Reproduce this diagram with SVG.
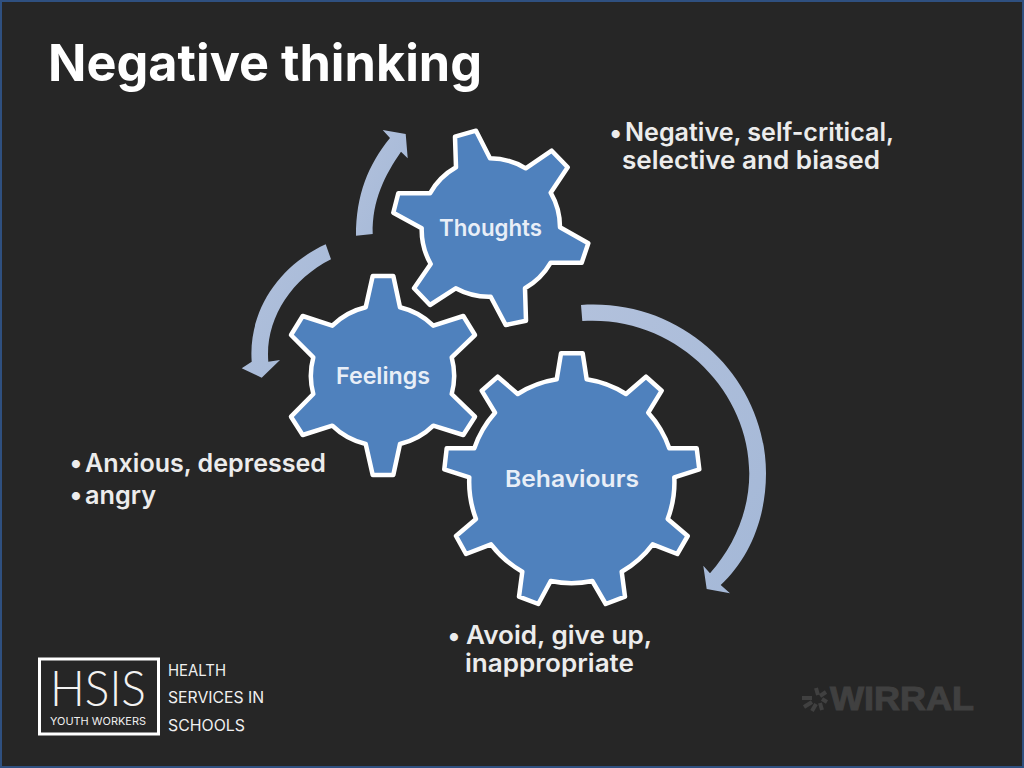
<svg xmlns="http://www.w3.org/2000/svg" width="1024" height="768" viewBox="0 0 1024 768">
<defs>
<linearGradient id="arrowFill" x1="0" y1="0" x2="1" y2="1"><stop offset="0" stop-color="#b2c1dc"/><stop offset="1" stop-color="#a4b8d7"/></linearGradient>
</defs>
<style>
text{font-family:"Inter","Liberation Sans",sans-serif;font-variant-ligatures:none}
.gear{fill:#4f81bd;stroke:#fff;stroke-width:4.5;stroke-linejoin:round}
.arrow{fill:url(#arrowFill)}
.gl{font-weight:600;fill:#e8eef7;font-size:23px}
.body{font-weight:600;fill:#ececec;font-size:25px}
.bullet{font-weight:800;fill:#ececec;font-size:26px;text-anchor:middle}
.logo{fill:#f0f0f0;font-size:15.500px}
</style>
<rect width="1024" height="768" fill="#262626"/>
<rect x="1" y="1" width="1022" height="766" fill="none" stroke="#2f5080" stroke-width="2"/>
<text x="48" y="81" font-weight="700" font-size="51" fill="#fff" textLength="434" lengthAdjust="spacingAndGlyphs">Negative thinking</text>
<g id="connectors">
<path class="arrow" d="M356 235.700C356 195 368 165 390 138L382.700 130L405.700 134L407.700 158.300L401 151.700C385 175 372 200 372.700 234Z"/>
<path class="arrow" d="M325.700 244.300C280 265 248 310 251.700 361.700L241.700 368.300L261.700 377.700L280 360L268.300 361.700C265 320 290 280 331 259.300Z"/>
<path class="arrow" d="M581 305C685 298 766 380 766 473.300C766 520 748 560 720.700 585L730 593.300L706.700 589L703.300 565.700L710 573.300C735 545 749.300 510 749.300 473.300C749.300 390 675 315 582.300 321Z"/>
</g>
<g id="thoughts">
<path class="gear" d="M455 136.700L476 130.700L490 158.300A69 69 0 0 1 525.700 168.300L551.700 150.700L567.700 167.300L550.700 192.700A69 69 0 0 1 560 227.300L588.300 243.300L581.700 262.700L550.700 262.700A69 69 0 0 1 525 288.300L526 320.700L505.700 325L490.700 296.700A69 69 0 0 1 455.700 288.300L430 305L414 288.300L430.700 264A69 69 0 0 1 421.700 228.300L393.300 212.700L398.300 193.300L430 193.300A69 69 0 0 1 456 167.300Z"/>
<text class="gl" x="439" y="235.500" textLength="103" lengthAdjust="spacingAndGlyphs">Thoughts</text>
</g>
<g id="feelings">
<path class="gear" d="M372.700 276L393.300 276L400 307.300A70.500 70.500 0 0 1 433.300 325.700L463.300 316L475 335L451.700 357.300A70.500 70.500 0 0 1 451.700 394L475 416.700L463.300 435L433.300 425.700A70.500 70.500 0 0 1 400 444L393.300 475L372.700 475L365.700 444A70.500 70.500 0 0 1 332.300 425.700L302.700 435L291 416.700L313.300 394A70.500 70.500 0 0 1 313.300 357.300L291 335L302.700 316L332.300 325.700A70.500 70.500 0 0 1 365.700 307.300Z"/>
<text class="gl" x="336" y="383.500" textLength="94" lengthAdjust="spacingAndGlyphs">Feelings</text>
</g>
<g id="behaviours">
<path class="gear" d="M561 353.300L582.700 353.300L586.700 379.300A103 103 0 0 1 626 394L646 376.700L661.700 390.700L648.300 412.700A103 103 0 0 1 669.300 448.300L696.700 448.300L699.300 469.300L674.300 477.300A103 103 0 0 1 667.700 519L687.700 536L677.300 554L652.700 544.300A103 103 0 0 1 621.700 571.700L625 596.700L605.700 604L592.300 581A103 103 0 0 1 550.700 581L538.300 604L519 596.700L522.300 571.700A103 103 0 0 1 491 544.300L466 554L456 536L476 519A103 103 0 0 1 469.300 477.300L444.300 469.300L446.700 448.300L474.300 448.300A103 103 0 0 1 495 412.700L481.700 390.700L497.700 376.700L517.700 394A103 103 0 0 1 556.700 379.300Z"/>
<text class="gl" x="505" y="486.500" textLength="134" lengthAdjust="spacingAndGlyphs">Behaviours</text>
</g>
<g id="note-thoughts">
<text class="bullet" x="615.700" y="141.500">•</text>
<text class="body" x="625" y="141" textLength="269" lengthAdjust="spacingAndGlyphs">Negative, self-critical,</text>
<text class="body" x="622" y="169" textLength="258" lengthAdjust="spacingAndGlyphs">selective and biased</text>
</g>
<g id="note-feelings">
<text class="bullet" x="76" y="472">•</text>
<text class="body" x="85" y="472" textLength="241" lengthAdjust="spacingAndGlyphs">Anxious, depressed</text>
<text class="bullet" x="76" y="504">•</text>
<text class="body" x="85" y="504" textLength="71" lengthAdjust="spacingAndGlyphs">angry</text>
</g>
<g id="note-behaviours">
<text class="bullet" x="454" y="644.500">•</text>
<text class="body" x="466" y="644" textLength="186" lengthAdjust="spacingAndGlyphs">Avoid, give up,</text>
<text class="body" x="465" y="672" textLength="169" lengthAdjust="spacingAndGlyphs">inappropriate</text>
</g>
<g id="logo-hsis">
<rect x="39.500" y="659" width="119" height="75" fill="none" stroke="#fff" stroke-width="3"/>
<text x="50" y="705.500" style="font-family:Lato,sans-serif" font-weight="300" font-size="50" fill="#f2f2f2" textLength="96" lengthAdjust="spacingAndGlyphs">HSIS</text>
<text x="50" y="725" font-size="10.500" fill="#f0f0f0" textLength="96" lengthAdjust="spacingAndGlyphs">YOUTH WORKERS</text>
<text class="logo" x="168" y="676" textLength="58" lengthAdjust="spacingAndGlyphs">HEALTH</text>
<text class="logo" x="168" y="703" textLength="96" lengthAdjust="spacingAndGlyphs">SERVICES IN</text>
<text class="logo" x="168" y="731" textLength="77" lengthAdjust="spacingAndGlyphs">SCHOOLS</text>
</g>
<g id="logo-wirral">
<text x="830" y="710" style="font-family:'Liberation Sans',sans-serif" font-weight="700" font-size="33" fill="#404040" stroke="#404040" stroke-width="1" textLength="144" lengthAdjust="spacingAndGlyphs">WIRRAL</text>
<path d="M802 698H812M804 707L812 702M812 711L816 704M822 710L820 703M827 702L822 699M826 692L820 696M816 688L818 695" fill="none" stroke="#404040" stroke-width="4"/>
</g>
</svg>
